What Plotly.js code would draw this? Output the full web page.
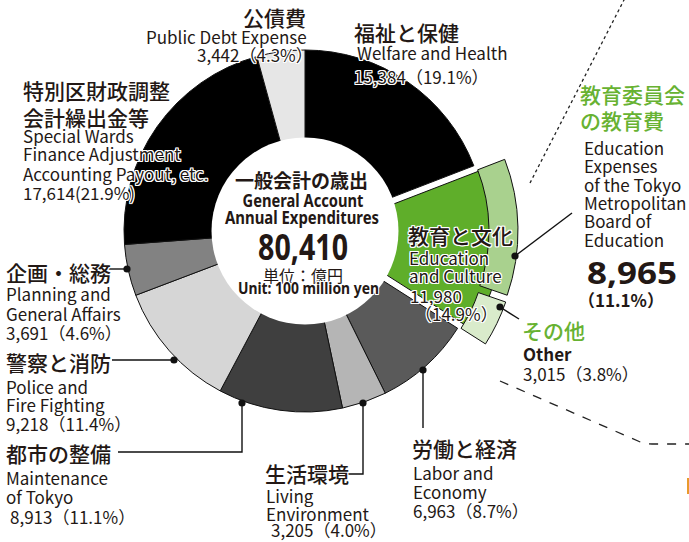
<!DOCTYPE html>
<html><head><meta charset="utf-8">
<script src="https://cdn.plot.ly/plotly-3.0.1.min.js"></script>
<style>html,body{margin:0;padding:0;background:#fff;}#chart{width:689px;height:542px;}</style>
</head><body><div id="chart"></div>
<script>
// ---------------- DATA ----------------
const categoriesJa = [['福祉と保健'],['教育と文化'],['労働と経済'],['生活環境'],['都市の整備'],['警察と消防'],['企画・総務'],['特別区財政調整','会計繰出金等'],['公債費']];
const categoriesEn = [['Welfare and Health'],['Education','and Culture'],['Labor and','Economy'],['Living','Environment'],['Maintenance','of Tokyo'],['Police and','Fire Fighting'],['Planning and','General Affairs'],['Special Wards','Finance Adjustment','Accounting Payout, etc.'],['Public Debt Expense']];
const values = [15384, 11980, 6963, 3205, 8913, 9218, 3691, 17614, 3442];
const shares = [19.1, 14.9, 8.7, 4.0, 11.1, 11.4, 4.6, 21.9, 4.3];
const total = 80410;
const eduSubJa = [['教育委員会','の教育費'],['その他']];
const eduSubEn = [['Education','Expenses','of the Tokyo','Metropolitan','Board of','Education'],['Other']];
const eduSubValues = [8965, 3015];
const eduSubShares = [11.1, 3.8];
const centerTitleJa = '一般会計の歳出';
const centerTitleEn = ['General Account','Annual Expenditures'];
const unitJa = '単位：億円';
const unitEn = 'Unit: 100 million yen';

// ---------------- STYLE / LAYOUT ----------------
const W = 689, H = 542;
const CX = 305, CY = 231, R = 181, PULL = 15;
const RIN = 93.5;
const BAND_OUT = 198, BAND_IN = 169;
const sliceColors = ['#000000','#5fae2a','#5a5a5a','#b5b5b5','#3f3f3f','#d6d6d6','#828282','#000000','#e6e6e6'];
const bandColors = ['#a9d18e','#d9ebcb','rgba(0,0,0,0)'];
const GREEN_TXT = '#67b232';
const TXT = '#231815';
const JA = '"Noto Sans CJK JP", "Noto Sans", sans-serif';
const LAT = '"Noto Sans", "Noto Sans CJK JP", sans-serif';
const HALO = '-1px -1px 0 #fff, 1px -1px 0 #fff, -1px 1px 0 #fff, 1px 1px 0 #fff, 0 1px 0 #fff, 0 -1px 0 #fff, 1px 0 0 #fff, -1px 0 0 #fff';
const JA_SIZE = 21, EN_SIZE = 17;

const fx = x => x / W, fy = y => 1 - y / H;
const fmt = v => v.toLocaleString('en-US');
const pct = s => s.toFixed(1) + '%';

// main pie
const pullMain = PULL / R;
const rDom = R * (1 + pullMain);
const mainTrace = {
  type: 'pie', values: values, labels: categoriesJa.map(a => a.join('')),
  sort: false, direction: 'clockwise', rotation: 0,
  hole: 0.42, textinfo: 'none', hoverinfo: 'skip', showlegend: false,
  pull: values.map((v, i) => i === 1 ? pullMain : 0),
  marker: {colors: sliceColors, line: {color: '#111', width: 1}},
  domain: {x: [fx(CX - rDom), fx(CX + rDom)], y: [fy(CY + rDom), fy(CY - rDom)]}
};
// outer band for education subdivisions
const pullBand = PULL / BAND_OUT;
const rbDom = BAND_OUT * (1 + pullBand);
const bandTrace = {
  type: 'pie', values: eduSubValues.concat([total - values[1]]),
  labels: ['board', 'other', 'rest'],
  sort: false, direction: 'clockwise', rotation: values[0] / total * 360,
  hole: BAND_IN / BAND_OUT, textinfo: 'none', hoverinfo: 'skip', showlegend: false,
  pull: [pullBand, pullBand, 0],
  marker: {colors: bandColors, line: {color: '#111', width: [1, 1, 0]}},
  domain: {x: [fx(CX - rbDom), fx(CX + rbDom)], y: [fy(CY + rbDom), fy(CY - rbDom)]}
};

const annotations = [];
const squeeze = {};
function ann(x, y, text, o) {
  o = o || {};
  const a = o.anchor || 'left';
  if (o.fit) squeeze[annotations.length] = o.fit;
  annotations.push({
    x: fx(x), y: fy(y), xref: 'paper', yref: 'paper', text: text, showarrow: false,
    xanchor: a, yanchor: 'middle', align: a === 'center' ? 'center' : a, borderpad: 0,
    font: {family: o.family || JA, size: o.size || EN_SIZE, color: o.color || TXT, weight: o.weight || 400, shadow: o.shadow === false ? 'none' : HALO}
  });
}
// label placement: x, Japanese line centres, English line centres, number line centre
const labelPos = [
  {x: 353, ja: [32], en: [52], enDx: 3, num: 77, numDx: 0},
  {x: 407, ja: [235], en: [257, 275], enDx: 1, num: 295, numDx: 2},
  {x: 411, ja: [448], en: [472, 491], enDx: 1, num: 510, numDx: 1},
  {x: 264, ja: [473], en: [495, 513], enDx: 1, num: 529, numDx: 6},
  {x: 5, ja: [453], en: [477, 496], enDx: 0, num: 516, numDx: 4},
  {x: 5, ja: [362], en: [386, 404], enDx: 0, num: 423, numDx: 0},
  {x: 5, ja: [272], en: [293, 313], enDx: 0, num: 332, numDx: 0},
  {x: 22, ja: [90, 117], en: [135, 154, 173], enDx: 0, num: 193, numDx: 0},
  {x: 307, ja: [17], en: [37], enDx: 1, num: 55, numDx: 7, anchor: 'right'}
];
categoriesJa.forEach((lines, i) => {
  const p = labelPos[i];
  const a = p.anchor || 'left';
  lines.forEach((t, k) => ann(p.x, p.ja[k], t, {size: JA_SIZE, weight: 500, anchor: a}));
  categoriesEn[i].forEach((t, k) => ann(p.x + p.enDx, p.en[k], t, {anchor: a}));
  if (i === 1) {
    ann(p.x + p.numDx, p.num, fmt(values[i]), {});
    ann(p.x + 7, p.num + 18, '（' + pct(shares[i]) + '）', {});
  } else if (i === 7) {
    ann(p.x + p.numDx, p.num, fmt(values[i]) + '(' + pct(shares[i]) + ')', {anchor: a});
  } else {
    ann(p.x + p.numDx, p.num, fmt(values[i]) + '（' + pct(shares[i]) + '）', {anchor: a});
  }
});
// education sub labels
eduSubJa[0].forEach((t, k) => ann(579, [94, 120][k], t, {size: JA_SIZE, weight: 500, color: GREEN_TXT}));
eduSubEn[0].forEach((t, k) => ann(583, 147 + k * 18.5, t, {}));
ann(586, 272, fmt(eduSubValues[0]), {size: 31, weight: 700, family: LAT, fit: 90});
ann(577, 299, '（' + pct(eduSubShares[0]) + '）', {size: 17, weight: 700});
ann(521, 330, eduSubJa[1][0], {size: JA_SIZE, weight: 500, color: GREEN_TXT});
ann(522, 353, eduSubEn[1][0], {weight: 700});
ann(522, 373, fmt(eduSubValues[1]) + '（' + pct(eduSubShares[1]) + '）', {});
// centre
ann(301, 180, centerTitleJa, {size: 19, weight: 700, anchor: 'center', shadow: false});
ann(303, 200, centerTitleEn[0], {size: 17, weight: 700, family: LAT, anchor: 'center', shadow: false, fit: 121});
ann(302, 217, centerTitleEn[1], {size: 17, weight: 700, family: LAT, anchor: 'center', shadow: false, fit: 154});
ann(303, 246, fmt(total), {size: 35, weight: 700, family: LAT, anchor: 'center', shadow: false, fit: 90});
ann(303, 275, unitJa, {size: 16, anchor: 'center', shadow: false});
ann(308, 288, unitEn, {size: 16, weight: 700, family: LAT, anchor: 'center', fit: 141});

// decorative shapes
const P = (x, y) => fx(x) + ',' + fy(y);
const shapes = [];
shapes.push({type: 'circle', xref: 'paper', yref: 'paper', x0: fx(CX - RIN), x1: fx(CX + RIN), y0: fy(CY + RIN), y1: fy(CY - RIN), fillcolor: '#fff', line: {width: 0}, layer: 'above'});
const leaderPaths = [
  [[108, 269], [127, 269]],
  [[112, 360], [174, 360]],
  [[118, 452], [242, 452], [242, 403]],
  [[348, 474], [363, 474], [363, 403]],
  [[423, 428], [423, 370]],
  [[572, 213], [515, 256]],
  [[519, 319], [500, 307]]
];
leaderPaths.forEach(pts => {
  shapes.push({type: 'path', xref: 'paper', yref: 'paper', layer: 'above',
    path: 'M' + pts.map(p => P(p[0], p[1])).join('L'), line: {color: '#111', width: 1.4}});
  const d = pts[pts.length - 1], r = 3.6;
  shapes.push({type: 'circle', xref: 'paper', yref: 'paper', layer: 'above', x0: fx(d[0] - r), x1: fx(d[0] + r), y0: fy(d[1] + r), y1: fy(d[1] - r), fillcolor: '#111', line: {width: 0}});
});
shapes.push({type: 'path', xref: 'paper', yref: 'paper', path: 'M' + P(530, 183) + 'L' + P(625, -2), line: {color: '#222', width: 1.3, dash: 'dot'}});
shapes.push({type: 'path', xref: 'paper', yref: 'paper', path: 'M' + P(500, 381) + 'L' + P(638, 441) + 'Q' + P(644, 444) + ' ' + P(652, 444) + 'L' + P(690, 444), line: {color: '#222', width: 1.3, dash: 'dash'}});
shapes.push({type: 'rect', xref: 'paper', yref: 'paper', x0: fx(687), x1: fx(690), y0: fy(494), y1: fy(478), fillcolor: '#e99a2c', line: {width: 0}});

Plotly.newPlot('chart', [mainTrace, bandTrace], {
  width: W, height: H, margin: {l: 0, r: 0, t: 0, b: 0},
  paper_bgcolor: '#fff', plot_bgcolor: '#fff',
  annotations: annotations, shapes: shapes
}, {staticPlot: true}).then(gd => {
  // condense a few bold texts to the narrow widths of the original typeface
  gd.querySelectorAll('g.annotation').forEach(g => {
    const idx = g.getAttribute('data-index');
    if (squeeze[idx] !== undefined) {
      const t = g.querySelector('text.annotation-text');
      if (t) { t.setAttribute('textLength', squeeze[idx]); t.setAttribute('lengthAdjust', 'spacingAndGlyphs'); }
    }
  });
});
</script></body></html>
